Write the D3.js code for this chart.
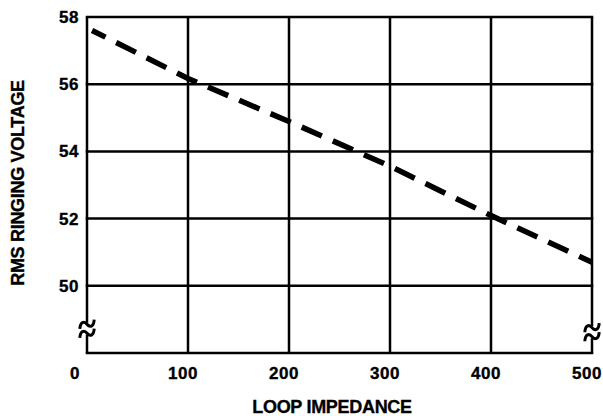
<!DOCTYPE html>
<html>
<head>
<meta charset="utf-8">
<script src="https://cdn.jsdelivr.net/npm/d3@7"></script>
<style>
  html, body { margin: 0; padding: 0; background: #fff; }
  svg text { font-family: "Liberation Sans", Arial, Helvetica, sans-serif; font-weight: bold; fill: #000; stroke: #000; stroke-width: 0.35px; }
</style>
</head>
<body>
<div id="chart"></div>
<script>
// data
const impedance = [5, 100, 200, 300, 400, 500];
const voltage = [57.6, 56.17, 54.89, 53.56, 52.09, 50.7];
const xTicks = [0, 100, 200, 300, 400, 500];
const yTicks = [50, 52, 54, 56, 58];

const WIDTH = 603;
const HEIGHT = 416;
const MARGINS = { top: 17, right: 11, bottom: 63, left: 87 };

const svg = d3.select('#chart')
    .append('svg')
    .attr('width', WIDTH)
    .attr('height', HEIGHT);

const xScale = d3.scaleLinear()
    .domain([0, 500])
    .range([MARGINS.left, WIDTH - MARGINS.right]);
const yScale = d3.scaleLinear()
    .domain([48, 58])
    .range([HEIGHT - MARGINS.bottom, MARGINS.top]);

// grid
svg.append('g')
    .selectAll('line')
    .data(xTicks)
    .enter().append('line')
    .attr('x1', d => xScale(d)).attr('x2', d => xScale(d))
    .attr('y1', yScale(58)).attr('y2', yScale(48))
    .attr('stroke', '#000').attr('stroke-width', 2.5);

svg.append('g')
    .selectAll('line')
    .data(yTicks.concat([48]))
    .enter().append('line')
    .attr('x1', xScale(0) - 1.25).attr('x2', xScale(500) + 1.25)
    .attr('y1', d => yScale(d)).attr('y2', d => yScale(d))
    .attr('stroke', '#000').attr('stroke-width', 2.5);

// axis breaks
const breaks = [{ x: 0, y: 48.72 }, { x: 500, y: 48.62 }];
breaks.forEach(b => {
    const cx = xScale(b.x);
    const cy = yScale(b.y);
    svg.append('rect')
        .attr('x', cx - 3).attr('y', cy - 6)
        .attr('width', 6).attr('height', 12)
        .attr('fill', '#fff');
    [-4.5, 4.5].forEach(off => {
        svg.append('path')
            .attr('transform', `translate(${cx},${cy + off}) rotate(-12)`)
            .attr('d', 'M -8,3 C -6,-4 -2,-4 0,0 S 6,4 8,-3')
            .attr('fill', 'none')
            .attr('stroke', '#000')
            .attr('stroke-width', 3);
    });
});

// dashed curve
const lineGen = d3.line()
    .x((d, i) => xScale(impedance[i]))
    .y(d => yScale(d));

svg.append('path')
    .attr('d', lineGen(voltage))
    .attr('fill', 'none')
    .attr('stroke', '#000')
    .attr('stroke-width', 5.5)
    .attr('stroke-dasharray', '22,12')
    .attr('stroke-dashoffset', 7);

// tick labels
svg.append('g')
    .selectAll('text')
    .data(xTicks)
    .enter().append('text')
    .attr('x', d => xScale(d) - (d === 0 ? 12 : 5))
    .attr('y', 379)
    .attr('text-anchor', 'middle')
    .attr('font-size', '17px')
    .attr('letter-spacing', '0.5px')
    .text(d => d);

svg.append('g')
    .selectAll('text')
    .data(yTicks)
    .enter().append('text')
    .attr('x', 79)
    .attr('y', d => yScale(d))
    .attr('dy', '0.35em')
    .attr('text-anchor', 'end')
    .attr('font-size', '17px')
    .attr('letter-spacing', '0.5px')
    .text(d => d);

// axis titles
svg.append('text')
    .attr('x', 332)
    .attr('y', 413)
    .attr('text-anchor', 'middle')
    .attr('font-size', '18px')
    .attr('letter-spacing', '-0.3px')
    .text('LOOP IMPEDANCE');

svg.append('text')
    .attr('transform', 'translate(24,183) rotate(-90)')
    .attr('text-anchor', 'middle')
    .attr('font-size', '18px')
    .attr('letter-spacing', '-0.3px')
    .text('RMS RINGING VOLTAGE');
</script>
</body>
</html>
